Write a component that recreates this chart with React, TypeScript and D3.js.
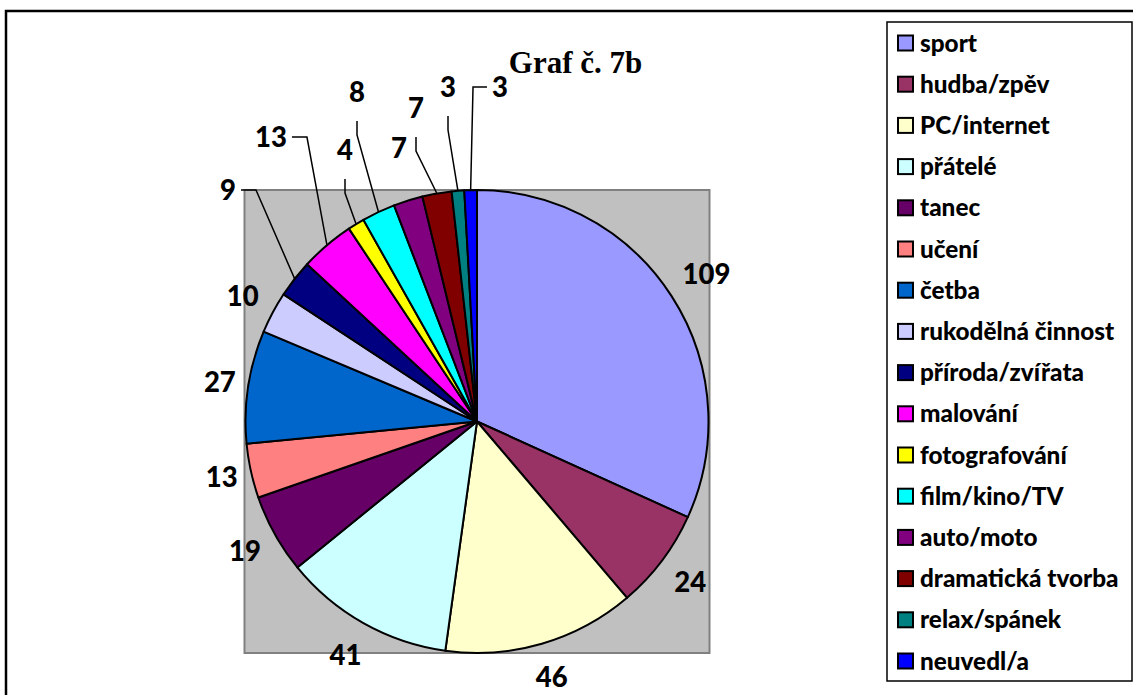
import React from "react";
import * as d3 from "d3";

const categories = [
  "sport", "hudba/zpěv", "PC/internet", "přátelé", "tanec", "učení", "četba",
  "rukodělná činnost", "příroda/zvířata", "malování", "fotografování",
  "film/kino/TV", "auto/moto", "dramatická tvorba", "relax/spánek", "neuvedl/a",
];
const values = [109, 24, 46, 41, 19, 13, 27, 10, 9, 13, 4, 8, 7, 7, 3, 3];
const colors = [
  "#9999FF", "#993366", "#FFFFCC", "#CCFFFF", "#660066", "#FF8080", "#0066CC",
  "#CCCCFF", "#000080", "#FF00FF", "#FFFF00", "#00FFFF", "#800080", "#800000",
  "#008080", "#0000FF",
];
const title = "Graf č. 7b";

// manually moved labels (offset from pie centre) with leader direction
const labelOverrides: Record<string, { dx: number; dy: number; leader: string }> = {
  "příroda/zvířata": { dx: -249, dy: -231.5, leader: "right" },
  "malování": { dx: -206, dy: -284.5, leader: "right" },
  "fotografování": { dx: -132, dy: -271.5, leader: "bottom" },
  "film/kino/TV": { dx: -120, dy: -329.5, leader: "bottom" },
  "auto/moto": { dx: -78, dy: -273.5, leader: "none" },
  "dramatická tvorba": { dx: -61, dy: -313.5, leader: "bottom" },
  "relax/spánek": { dx: -29, dy: -334.5, leader: "bottom" },
  "neuvedl/a": { dx: 23, dy: -334.5, leader: "left" },
};

export default function App() {
  const W = 1133, H = 695;
  const cx = 477, cy = 421.5, r = 231.5;
  const labelFont = 27.5;
  const digitW = 0.58 * labelFont;

  const data = categories.map((c, i) => ({ name: c, value: values[i], color: colors[i] }));
  const pie = d3.pie<any>().sort(null).value((d: any) => d.value).startAngle(0).endAngle(2 * Math.PI);
  const arcs = pie(data);
  const arc = d3.arc<any>().innerRadius(0).outerRadius(r);

  const labels = arcs.map((a) => {
    const mid = (a.startAngle + a.endAngle) / 2;
    const s = Math.sin(mid), c = Math.cos(mid);
    const text = String(a.data.value);
    const hw = (text.length * digitW) / 2;
    const ov = labelOverrides[a.data.name];
    let lx: number, ly: number;
    if (ov) {
      lx = cx + ov.dx; ly = cy + ov.dy;
    } else {
      const dist = 241 + hw * Math.abs(s) + 22 * Math.abs(c);
      lx = cx + dist * s; ly = cy - dist * c;
    }
    const px = cx + r * s, py = cy - r * c;
    let leader: string | null = null;
    if (ov && ov.leader === "right") {
      const x0 = lx + hw + 5;
      leader = `M${x0},${ly}H${x0 + 15}L${px},${py}`;
    } else if (ov && ov.leader === "left") {
      const x0 = lx - hw - 5;
      leader = `M${x0},${ly}H${x0 - 14}L${px},${py}`;
    } else if (ov && ov.leader === "bottom") {
      leader = `M${lx},${ly + 29}V${ly + 43}L${px},${py}`;
    }
    return { text, lx, ly, leader };
  });

  const legX = 887, legY = 22, legW = 245, legH = 659;
  const legFirst = 43, legStep = 41.2;

  return (
    <svg width={W} height={H} style={{ position: "absolute", left: 0, top: 0, background: "#fff" }}>
      <rect x={6} y={11} width={1300} height={1000} fill="#fff" stroke="#000" strokeWidth={2.5} />
      <rect x={cx - r - 1} y={cy - r} width={2 * r + 2} height={2 * r} fill="#C0C0C0" stroke="#808080" strokeWidth={2} />
      <g transform={`translate(${cx},${cy})`}>
        {arcs.map((a, i) => (
          <path key={i} d={arc(a) as string} fill={a.data.color} stroke="#000" strokeWidth={2} strokeLinejoin="round" />
        ))}
      </g>
      {labels.map((l, i) =>
        l.leader ? <path key={"ld" + i} d={l.leader} fill="none" stroke="#000" strokeWidth={1.5} /> : null
      )}
      {labels.map((l, i) => (
        <text key={"lb" + i} x={l.lx} y={l.ly + 0.36 * labelFont} textAnchor="middle"
          fontFamily="Lato, 'Open Sans', sans-serif" fontWeight="900" fontSize={labelFont} fill="#000">
          {l.text}
        </text>
      ))}
      <text x={575.5} y={73} textAnchor="middle" fontFamily="'Liberation Serif', 'Times New Roman', serif"
        fontWeight="bold" fontSize={31} fill="#000">{title}</text>
      <rect x={legX} y={legY} width={legW} height={legH} fill="#fff" stroke="#000" strokeWidth={1.5} />
      {data.map((d, i) => {
        const y = legFirst + i * legStep;
        return (
          <g key={"lg" + i}>
            <rect x={898} y={y - 7.5} width={15} height={15} fill={d.color} stroke="#000" strokeWidth={2} />
            <text x={920} y={y + 8.5} fontFamily="Lato, 'Open Sans', sans-serif" fontWeight="900" fontSize={24.3} fill="#000">
              {d.name}
            </text>
          </g>
        );
      })}
    </svg>
  );
}
